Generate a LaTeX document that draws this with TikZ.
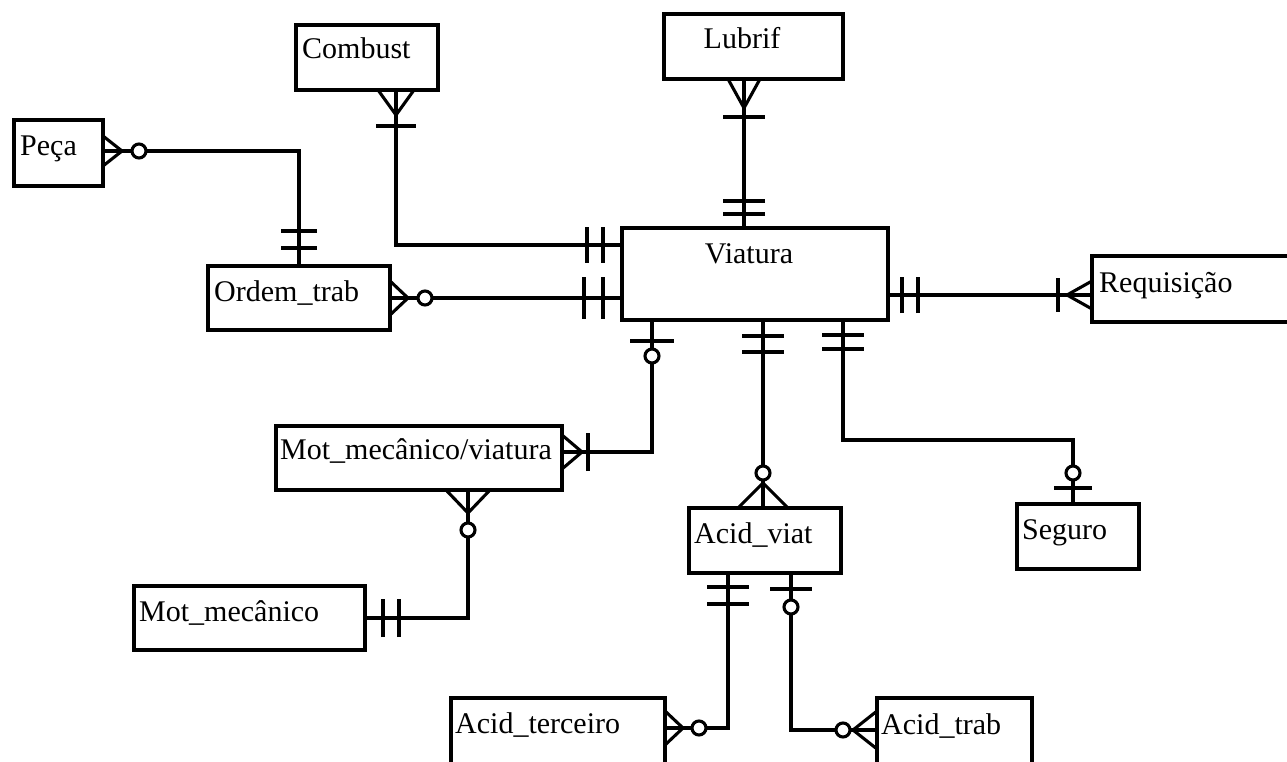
\documentclass[tikz,border=0pt]{standalone}
\usepackage{fontspec}
\setmainfont{Liberation Serif}
\usetikzlibrary{calc}
\tikzset{
  ent/.style={draw, line width=3.1pt, rectangle, inner sep=0pt, outer sep=0pt},
  txt/.style={inner sep=0pt, anchor=base west, font=\fontsize{30}{36}\selectfont},
  ctxt/.style={txt, anchor=base},
  rel/.style={line width=3.1pt},
  mk/.style={line width=3.1pt},
  % crow's foot: length / half spread
  pics/many/.style args={#1/#2}{code={\draw[mk] (0pt,#2pt) -- (#1pt,0pt) -- (0pt,-#2pt);}},
  % single bar: distance / half length
  pics/one/.style args={#1/#2}{code={\draw[mk] (#1pt,-#2pt) -- (#1pt,#2pt);}},
  % optional circle at a distance
  pics/zero/.style={code={\draw[mk,fill=white] (#1pt,0pt) circle[radius=7pt];}},
}
\begin{document}
\begin{tikzpicture}[x=1pt,y=-1pt]
\useasboundingbox (0,0) rectangle (1287,762);

% entities
\node[ent, minimum width=89pt,  minimum height=66pt] (pec)   at (58.5,153)  {};
\node[ent, minimum width=142pt, minimum height=65pt] (com)   at (367,57.5)  {};
\node[ent, minimum width=179pt, minimum height=65pt] (lub)   at (753.5,46.5) {};
\node[ent, minimum width=182pt, minimum height=64pt] (ord)   at (299,298)   {};
\node[ent, minimum width=266pt, minimum height=92pt] (via)   at (755,274)   {};
\node[ent, minimum width=208pt, minimum height=66pt] (req)   at (1196,289)  {};
\node[ent, minimum width=286pt, minimum height=64pt] (mmv)   at (419,458)   {};
\node[ent, minimum width=231pt, minimum height=64pt] (mm)    at (249.5,618) {};
\node[ent, minimum width=152pt, minimum height=65pt] (acv)   at (765,540.5) {};
\node[ent, minimum width=122pt, minimum height=65pt] (seg)   at (1078,536.5) {};
\node[ent, minimum width=214pt, minimum height=82pt] (acter) at (558,739)   {};
\node[ent, minimum width=155pt, minimum height=82pt] (actr)  at (954.5,739) {};

% entity names
\node[txt]  (pec-t)   at (20,156)   {Peça};
\node[txt]  (com-t)   at (302,59)   {Combust};
\node[ctxt] (lub-t)   at (742,49)   {Lubrif};
\node[ctxt] (via-t)   at (749,263)  {Viatura};
\node[txt]  (ord-t)   at (214,301)  {Ordem\_trab};
\node[txt]  (req-t)   at (1099,292) {Requisição};
\node[txt]  (mmv-t)   at (280,459)  {Mot\_mecânico/viatura};
\node[txt]  (mm-t)    at (139,621)  {Mot\_mecânico};
\node[txt]  (acv-t)   at (694,543)  {Acid\_viat};
\node[txt]  (seg-t)   at (1022,539) {Seguro};
\node[txt]  (acter-t) at (455,733)  {Acid\_terceiro};
\node[txt]  (actr-t)  at (881,734)  {Acid\_trab};

% attachment points
\coordinate (pecR)  at ($(pec.east)+(0,-2)$);
\coordinate (ordT)  at (ord.north);
\coordinate (comB)  at ($(com.south)+(29,0)$);
\coordinate (viaL1) at ($(via.north west)+(0,17)$);
\coordinate (lubB)  at ($(lub.south)+(-9.5,0)$);
\coordinate (viaT)  at (lubB |- via.north);
\coordinate (ordR)  at (ord.east);
\coordinate (viaL2) at (ord.east -| via.west);
\coordinate (viaR)  at ($(via.east)+(0,21)$);
\coordinate (reqL)  at (viaR -| req.west);
\coordinate (viaB1) at ($(via.south west)+(30,0)$);
\coordinate (mmvR)  at ($(mmv.east)+(0,-6)$);
\coordinate (mmvB)  at ($(mmv.south)+(49,0)$);
\coordinate (mmR)   at (mm.east);
\coordinate (viaB2) at ($(via.south west)+(141,0)$);
\coordinate (acvT)  at (viaB2 |- acv.north);
\coordinate (viaB3) at ($(via.south west)+(221,0)$);
\coordinate (segT)  at ($(seg.north)+(-5,0)$);
\coordinate (segK)  at ($(viaB3 |- seg.north)+(0,-64)$);
\coordinate (acvB1) at ($(acv.south west)+(39,0)$);
\coordinate (acterR) at ($(acter.east)+(0,-11)$);
\coordinate (acvB2) at ($(acv.south west)+(102,0)$);
\coordinate (actrL) at ($(actr.west)+(0,-9)$);

% relationship lines
\draw[rel] (pecR) -- (pecR -| ordT) -- (ordT);
\draw[rel] (comB) -- (comB |- viaL1) -- (viaL1);
\draw[rel] (lubB) -- (viaT);
\draw[rel] (ordR) -- (viaL2);
\draw[rel] (viaR) -- (reqL);
\draw[rel] (viaB1) -- (viaB1 |- mmvR) -- (mmvR);
\draw[rel] (mmvB) -- (mmvB |- mmR) -- (mmR);
\draw[rel] (viaB2) -- (acvT);
\draw[rel] (viaB3) -- (segK) -- (segK -| segT) -- (segT);
\draw[rel] (acvB1) -- (acvB1 |- acterR) -- (acterR);
\draw[rel] (acvB2) -- (acvB2 |- actrL) -- (actrL);

% cardinality marks
% Peça - Ordem_trab
\pic at (pecR) {many=19/15};
\pic at (pecR) {zero=36};
\pic[rotate=90] at (ordT) {one=18/18};
\pic[rotate=90] at (ordT) {one=35/18};
% Combust - Viatura
\pic[rotate=-90] at (comB) {many=25/18};
\pic[rotate=-90] at (comB) {one=36/20};
\pic[rotate=180] at (viaL1) {one=19/18};
\pic[rotate=180] at (viaL1) {one=35/18};
% Lubrif - Viatura
\pic[rotate=-90] at (lubB) {many=29/16};
\pic[rotate=-90] at (lubB) {one=38/21};
\pic[rotate=90] at (viaT) {one=14/21};
\pic[rotate=90] at (viaT) {one=27/21};
% Ordem_trab - Viatura
\pic at (ordR) {many=18/17};
\pic at (ordR) {zero=35};
\pic[rotate=180] at (viaL2) {one=19/21};
\pic[rotate=180] at (viaL2) {one=38/21};
% Viatura - Requisição
\pic at (viaR) {one=14/18};
\pic at (viaR) {one=30/18};
\pic[rotate=180] at (reqL) {many=25/14};
\pic[rotate=180] at (reqL) {one=34/17};
% Viatura - Mot_mecânico/viatura
\pic[rotate=-90] at (viaB1) {one=21/22};
\pic[rotate=-90] at (viaB1) {zero=36};
\pic at (mmvR) {many=20/17};
\pic at (mmvR) {one=26/19};
% Mot_mecânico/viatura - Mot_mecânico
\pic[rotate=-90] at (mmvB) {many=23/22};
\pic[rotate=-90] at (mmvB) {zero=40};
\pic at (mmR) {one=18/19};
\pic at (mmR) {one=34/19};
% Viatura - Acid_viat
\pic[rotate=-90] at (viaB2) {one=16/21};
\pic[rotate=-90] at (viaB2) {one=32/21};
\pic[rotate=90] at (acvT) {many=25/25};
\pic[rotate=90] at (acvT) {zero=35};
% Viatura - Seguro
\pic[rotate=-90] at (viaB3) {one=15/21};
\pic[rotate=-90] at (viaB3) {one=29/21};
\pic[rotate=90] at (segT) {one=16/19};
\pic[rotate=90] at (segT) {zero=31};
% Acid_viat - Acid_terceiro
\pic[rotate=-90] at (acvB1) {one=14/21};
\pic[rotate=-90] at (acvB1) {one=31/21};
\pic at (acterR) {many=18/17};
\pic at (acterR) {zero=34};
% Acid_viat - Acid_trab
\pic[rotate=-90] at (acvB2) {one=16/21};
\pic[rotate=-90] at (acvB2) {zero=34};
\pic[rotate=180] at (actrL) {many=24/19};
\pic[rotate=180] at (actrL) {zero=34};
\end{tikzpicture}
\end{document}
